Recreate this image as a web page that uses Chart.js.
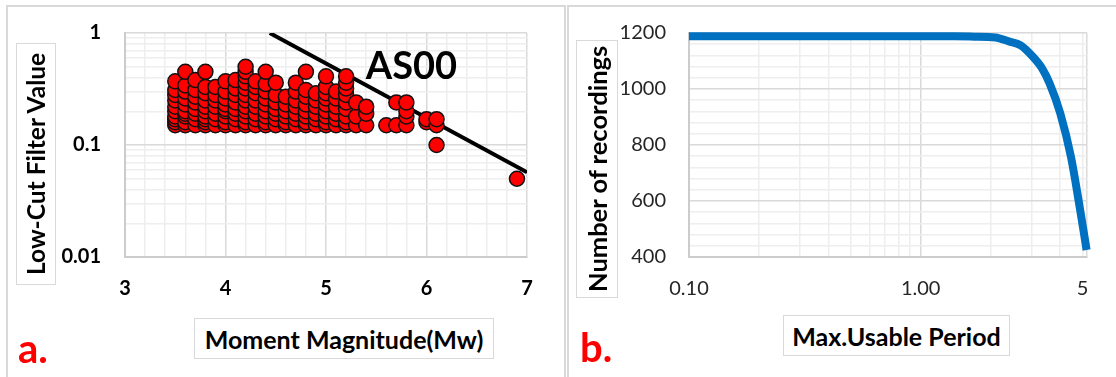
<!DOCTYPE html>
<html>
<head>
<meta charset="utf-8">
<script src="https://cdn.jsdelivr.net/npm/chart.js@4.4.1/dist/chart.umd.min.js"></script>
<style>
  body { margin: 0; background: #fff; font-family: Lato, "Open Sans", sans-serif; }
  #page { position: relative; width: 1116px; height: 377px; overflow: hidden; }
  .panel { position: absolute; top: 5px; height: 400px; border: 2px solid #d9d9d9; box-sizing: border-box; }
  .chart-box { position: absolute; top: 5px; height: 372px; }
  .axis-title {
    position: absolute; box-sizing: border-box; border: 1.5px solid #d9d9d9; background: #fff;
    display: flex; align-items: center; justify-content: center;
    font-weight: bold; color: #000; white-space: nowrap;
  }
  .vertical { writing-mode: vertical-rl; transform: rotate(180deg); }
  .tag { position: absolute; color: #ff0000; font-weight: bold; font-size: 40px; line-height: 1; }
</style>
</head>
<body>
<div id="page">
  <div class="panel" style="left:6px; width:560px;"></div>
  <div class="panel" style="left:567px; width:560px;"></div>

  <div class="chart-box" style="left:7px; width:558px;"><canvas id="lowCutChart" width="558" height="372"></canvas></div>
  <div class="chart-box" style="left:568px; width:548px;"><canvas id="periodChart" width="548" height="372"></canvas></div>

  <div class="axis-title vertical" style="left:16px; top:43px; width:40px; height:242px; font-size:24.5px;">Low-Cut Filter Value</div>
  <div class="axis-title" style="left:194px; top:318px; width:300px; height:41px; font-size:25px;">Moment Magnitude(Mw)</div>
  <div class="axis-title vertical" style="left:576px; top:40px; width:42px; height:258px; font-size:25.5px;">Number of recordings</div>
  <div class="axis-title" style="left:783px; top:315px; width:227px; height:41px; font-size:25px;">Max.Usable Period</div>

  <div class="tag" style="left:18px; top:328px;">a.</div>
  <div class="tag" style="left:580px; top:327px;">b.</div>
</div>

<script>
// ---- panel a: low-cut filter vs magnitude ----
const magnitudes = [3.5, 3.6, 3.7, 3.8, 3.9, 4.0, 4.1, 4.2, 4.3, 4.4, 4.5, 4.6, 4.7, 4.8, 4.9,
                    5.0, 5.1, 5.2, 5.3, 5.4, 5.6, 5.7, 5.8, 6.0, 6.1, 6.9];
const lowCutValues = [
  [0.15, 0.16, 0.17, 0.18, 0.2, 0.22, 0.25, 0.28, 0.31, 0.37],
  [0.15, 0.16, 0.18, 0.19, 0.2, 0.23, 0.26, 0.3, 0.34, 0.45],
  [0.15, 0.17, 0.19, 0.21, 0.24, 0.27, 0.31, 0.38],
  [0.15, 0.16, 0.17, 0.18, 0.2, 0.22, 0.25, 0.29, 0.33, 0.45],
  [0.15, 0.17, 0.19, 0.22, 0.25, 0.28, 0.33],
  [0.15, 0.16, 0.18, 0.2, 0.21, 0.23, 0.26, 0.3, 0.37],
  [0.15, 0.17, 0.19, 0.21, 0.24, 0.28, 0.32, 0.38],
  [0.15, 0.16, 0.18, 0.2, 0.22, 0.25, 0.28, 0.32, 0.36, 0.41, 0.45, 0.5],
  [0.15, 0.17, 0.19, 0.22, 0.25, 0.29, 0.33, 0.37],
  [0.15, 0.16, 0.18, 0.2, 0.23, 0.26, 0.3, 0.35, 0.45],
  [0.15, 0.17, 0.19, 0.21, 0.24, 0.28, 0.36],
  [0.15, 0.16, 0.18, 0.2, 0.23, 0.27],
  [0.15, 0.17, 0.19, 0.22, 0.25, 0.3, 0.36],
  [0.15, 0.16, 0.18, 0.2, 0.23, 0.27, 0.31, 0.45],
  [0.15, 0.17, 0.19, 0.22, 0.25, 0.29],
  [0.15, 0.16, 0.18, 0.2, 0.23, 0.26, 0.29, 0.33, 0.41],
  [0.15, 0.17, 0.19, 0.22, 0.26, 0.3],
  [0.15, 0.16, 0.18, 0.21, 0.24, 0.28, 0.32, 0.36, 0.41],
  [0.15, 0.18, 0.24],
  [0.15, 0.19, 0.22],
  [0.15],
  [0.15, 0.24],
  [0.15, 0.18, 0.2, 0.24],
  [0.16, 0.17],
  [0.15, 0.17, 0.1],
  [0.05]
];
// AS00 limit line end points
const limitMagnitudes = [4.44, 7.0];
const limitValues = [1.0, 0.057];
const filterTickValues = [0.01, 0.1, 1];
const filterTickText = ['0.01', '0.1', '1'];

// ---- panel b: recordings vs max usable period ----
const periods = [0.1, 0.5, 1.0, 1.4, 1.7, 2.1, 2.4, 2.7, 3.05, 3.35, 3.6, 4.0, 4.45, 4.85, 5.2];
const recordings = [1188, 1188, 1188, 1188, 1187, 1184, 1170, 1156, 1115, 1072, 1020, 914, 758, 580, 425];
const periodTickValues = [0.1, 1, 5];
const periodTickText = ['0.10', '1.00', '5'];

const MAJOR = '#d9d9d9';
const MINOR = '#eeeeee';
const EDGE = '#cccccc';

const isDecade = v => Math.abs(Math.log10(v) - Math.round(Math.log10(v))) < 1e-9;
const isInteger = v => Math.abs(v - Math.round(v)) < 1e-6;

function logTicks(from, to) {
  const out = [];
  for (let d = from; d < to * 0.999; d *= 10) {
    for (let k = 1; k < 10; k++) out.push(+(d * k).toPrecision(6));
  }
  out.push(to);
  return out;
}

// keep the tick label padding from pushing the plot area down
function fixedYAxis(width) {
  return scale => {
    scale.width = width;
    scale.paddingTop = 10;
    scale.paddingBottom = 10;
  };
}

const scatterPoints = [];
magnitudes.forEach((m, i) => lowCutValues[i].forEach(v => scatterPoints.push({ x: m, y: v })));

const seriesLabel = {
  id: 'seriesLabel',
  afterDatasetsDraw(chart) {
    const { ctx, scales } = chart;
    ctx.save();
    ctx.font = 'bold 38px Lato';
    ctx.fillStyle = '#000';
    ctx.textAlign = 'center';
    ctx.textBaseline = 'middle';
    ctx.fillText('AS00', scales.x.getPixelForValue(5.85), scales.y.getPixelForValue(0.5));
    ctx.restore();
  }
};

new Chart(document.getElementById('lowCutChart'), {
  type: 'scatter',
  data: {
    datasets: [
      {
        data: scatterPoints,
        backgroundColor: '#ff0000',
        borderColor: '#111',
        borderWidth: 1.5,
        pointRadius: 7.5,
        order: 0
      },
      {
        type: 'line',
        data: limitMagnitudes.map((m, i) => ({ x: m, y: limitValues[i] })),
        borderColor: '#000',
        borderWidth: 4,
        pointRadius: 0,
        order: 1
      }
    ]
  },
  options: {
    responsive: false,
    animation: false,
    layout: { padding: { top: 28, right: 38, left: 0, bottom: 0 } },
    plugins: { legend: { display: false }, tooltip: { enabled: false } },
    scales: {
      x: {
        type: 'linear',
        min: 3, max: 7,
        afterFit(scale) { scale.height = 120; },
        ticks: {
          stepSize: 0.2, autoSkip: false, maxRotation: 0, padding: 20,
          color: '#000', font: { family: 'Lato', size: 20, weight: 'bold' },
          callback: v => isInteger(v) ? String(Math.round(v)) : ''
        },
        grid: {
          drawTicks: false, lineWidth: 1.5,
          color: c => isInteger(c.tick.value) ? MAJOR : MINOR
        },
        border: { color: EDGE, width: 2 }
      },
      y: {
        type: 'logarithmic',
        min: 0.01, max: 1,
        afterFit: fixedYAxis(118),
        afterBuildTicks(scale) { scale.ticks = logTicks(0.01, 1).map(value => ({ value })); },
        ticks: {
          autoSkip: false, padding: 24,
          color: '#000', font: { family: 'Lato', size: 20, weight: 'bold' },
          callback: v => {
            const i = filterTickValues.findIndex(t => Math.abs(t - v) < 1e-9);
            return i >= 0 ? filterTickText[i] : '';
          }
        },
        grid: {
          drawTicks: false, lineWidth: 1.5,
          color: c => isDecade(c.tick.value) ? MAJOR : MINOR
        },
        border: { color: EDGE, width: 2 }
      }
    }
  },
  plugins: [seriesLabel]
});

new Chart(document.getElementById('periodChart'), {
  type: 'line',
  data: {
    datasets: [{
      data: periods.map((p, i) => ({ x: p, y: recordings[i] })),
      borderColor: '#0070c0',
      borderWidth: 8,
      pointRadius: 0,
      cubicInterpolationMode: 'monotone',
      clip: 8
    }]
  },
  options: {
    responsive: false,
    animation: false,
    layout: { padding: { top: 28, right: 29, left: 0, bottom: 0 } },
    plugins: { legend: { display: false }, tooltip: { enabled: false } },
    scales: {
      x: {
        type: 'logarithmic',
        min: 0.1, max: 5.22,
        afterFit(scale) { scale.height = 120; },
        afterBuildTicks(scale) {
          const vals = logTicks(0.1, 1).concat([2, 3, 4, 5, 5.22]);
          scale.ticks = vals.map(value => ({ value }));
        },
        ticks: {
          autoSkip: false, maxRotation: 0, padding: 20,
          color: '#262626', font: { family: 'Lato', size: 20 },
          callback: v => {
            const i = periodTickValues.findIndex(t => Math.abs(t - v) < 1e-9);
            return i >= 0 ? periodTickText[i] : '';
          }
        },
        grid: {
          drawTicks: false, lineWidth: 1.5,
          color: c => (c.tick.value === 1 || c.tick.value === 5.22) ? MAJOR : MINOR
        },
        border: { color: EDGE, width: 2 }
      },
      y: {
        min: 400, max: 1200,
        afterFit: fixedYAxis(121),
        ticks: {
          stepSize: 40, autoSkip: false, padding: 23,
          color: '#262626', font: { family: 'Lato', size: 20 },
          callback: v => v % 200 === 0 ? String(v) : ''
        },
        grid: {
          drawTicks: false, lineWidth: 1.5,
          color: c => c.tick.value % 200 === 0 ? MAJOR : MINOR
        },
        border: { color: EDGE, width: 2 }
      }
    }
  }
});
</script>
</body>
</html>
